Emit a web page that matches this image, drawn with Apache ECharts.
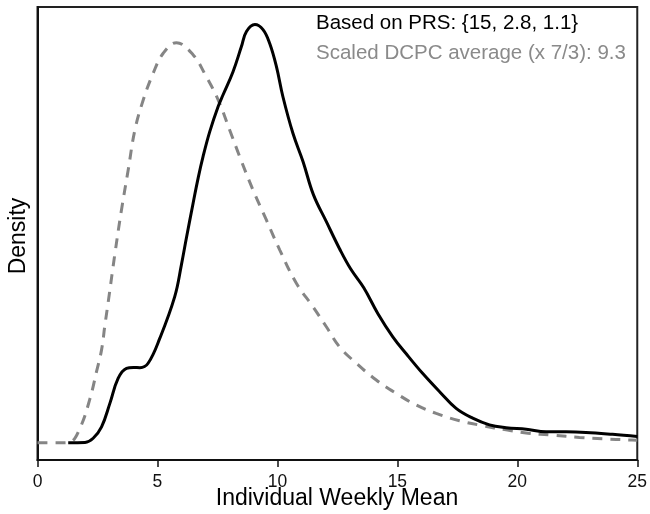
<!DOCTYPE html>
<html>
<head>
<meta charset="utf-8">
<script src="https://cdn.jsdelivr.net/npm/echarts@6/dist/echarts.min.js"></script>
<style>
  html, body { margin: 0; padding: 0; background: #fff; }
  #chart { width: 650px; height: 514px; }
</style>
</head>
<body>
<div id="chart"></div>
<script>
// Kernel density of individual weekly means (PRS-based)
const prsX = [1.28, 1.98, 2.32, 2.67, 3.02, 3.36, 3.71, 4.0, 4.27, 4.61, 5.10, 5.72, 6.00, 6.21, 6.49, 6.70, 6.90, 7.18, 7.53, 7.74, 8.15, 8.50, 8.71, 9.06, 9.40, 9.68, 9.96, 10.23, 10.65, 11.07, 11.50, 12.04, 12.59, 13.05, 13.60, 14.19, 14.81, 15.37, 16.06, 16.76, 17.45, 18.14, 18.84, 19.53, 20.37, 21.20, 22.03, 22.86, 23.97, 25.0];
const prsY = [0.0000, 0.0001, 0.0016, 0.0057, 0.0142, 0.0231, 0.0267, 0.0270, 0.0269, 0.0285, 0.0375, 0.0524, 0.0639, 0.0736, 0.0861, 0.0951, 0.1026, 0.1116, 0.1206, 0.1249, 0.1331, 0.1421, 0.1475, 0.1500, 0.1482, 0.1432, 0.1349, 0.1241, 0.1109, 0.1008, 0.0890, 0.0793, 0.0696, 0.0624, 0.0556, 0.0463, 0.0380, 0.0319, 0.0248, 0.0183, 0.0123, 0.0088, 0.0064, 0.0054, 0.0048, 0.0039, 0.0039, 0.0037, 0.0030, 0.0022];

// Scaled DCPC average density
const dcpcX = [0, 1.0, 1.35, 1.77, 2.19, 2.46, 2.67, 2.81, 2.95, 3.23, 3.50, 3.78, 4.06, 4.41, 4.82, 5.24, 5.79, 6.49, 7.00, 7.53, 8.01, 8.43, 8.98, 9.54, 10.10, 10.79, 11.48, 12.04, 12.59, 13.29, 14.12, 14.95, 15.79, 16.62, 17.59, 18.56, 19.53, 20.45, 21.47, 22.59, 23.56, 24.67, 25.0];
const dcpcY = [0.0000, 0.0000, 0.0002, 0.0052, 0.0159, 0.0255, 0.0333, 0.0422, 0.0506, 0.0680, 0.0835, 0.0978, 0.1122, 0.1230, 0.1325, 0.1397, 0.1435, 0.1391, 0.1319, 0.1230, 0.1122, 0.1026, 0.0907, 0.0799, 0.0691, 0.0572, 0.0488, 0.0416, 0.0344, 0.0285, 0.0225, 0.0177, 0.0135, 0.0105, 0.0079, 0.0061, 0.0046, 0.0034, 0.0027, 0.0019, 0.0014, 0.0010, 0.0009];

const legendLines = ['Based on PRS: {15, 2.8, 1.1}', 'Scaled DCPC average (x 7/3): 9.3'];
const xTitle = 'Individual Weekly Mean';
const yTitle = 'Density';

const FONT = '"Liberation Sans", Arial, Helvetica, sans-serif';
const pair = (xs, ys) => xs.map((x, i) => [x, ys[i]]);

const chart = echarts.init(document.getElementById('chart'), null, { renderer: 'canvas' });
chart.setOption({
  animation: false,
  backgroundColor: '#ffffff',
  grid: {
    left: 37.5, right: 12, top: 7, bottom: 54,
    show: true, borderColor: '#222', borderWidth: 2, backgroundColor: 'transparent'
  },
  xAxis: {
    type: 'value', min: 0, max: 25, interval: 5,
    splitLine: { show: false },
    axisLine: { show: true, onZero: false, lineStyle: { color: '#111', width: 2 } },
    axisTick: { show: true, length: 7, lineStyle: { color: '#111', width: 1.5 } },
    axisLabel: { color: '#111', fontFamily: FONT, fontSize: 17.5, margin: 13 }
  },
  yAxis: {
    type: 'value', min: -0.0062, max: 0.1563,
    splitLine: { show: false },
    axisLine: { show: true, onZero: false, lineStyle: { color: '#111', width: 2 } },
    axisTick: { show: false },
    axisLabel: { show: false }
  },
  series: [
    {
      name: legendLines[1], type: 'line', data: pair(dcpcX, dcpcY),
      smooth: 0.4, showSymbol: false, silent: true,
      lineStyle: { color: '#858585', width: 3, type: [10, 8] }
    },
    {
      name: legendLines[0], type: 'line', data: pair(prsX, prsY),
      smooth: 0.4, showSymbol: false, silent: true,
      lineStyle: { color: '#000', width: 3 }
    }
  ],
  graphic: [
    { type: 'text', left: 316, top: 24.6 - 12, style: { text: legendLines[0], fill: '#000', font: '20.5px ' + FONT } },
    { type: 'text', left: 316, top: 54.6 - 12, style: { text: legendLines[1], fill: '#8a8a8a', font: '20.5px ' + FONT } },
    { type: 'text', x: 337, y: 499, style: { text: xTitle, fill: '#000', font: '23px ' + FONT, align: 'center', verticalAlign: 'middle' } },
    { type: 'text', x: 18.5, y: 236, rotation: Math.PI / 2, style: { text: yTitle, fill: '#000', font: '23px ' + FONT, align: 'center', verticalAlign: 'middle' } }
  ]
});
</script>
</body>
</html>
